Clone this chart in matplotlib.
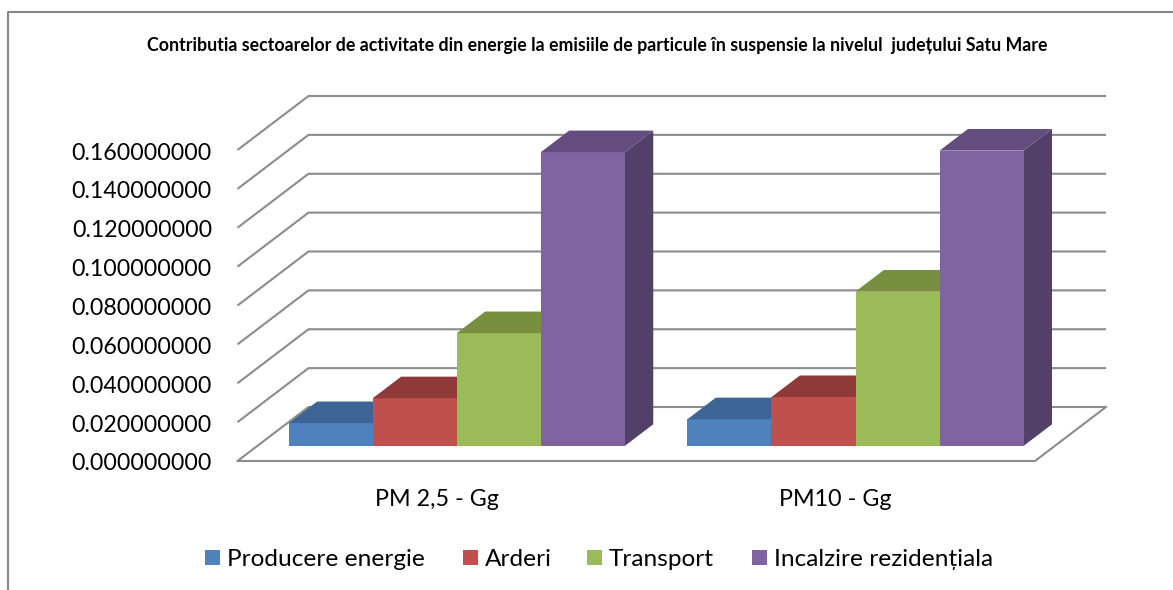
import matplotlib
matplotlib.use("Agg")
import matplotlib.pyplot as plt
from matplotlib.patches import Polygon, Rectangle
from matplotlib.lines import Line2D
from matplotlib.transforms import offset_copy

# ---------------- data ----------------
title = ("Contributia sectoarelor de activitate din energie la emisiile de particule "
         "în suspensie la nivelul  județului Satu Mare")
categories = ["PM 2,5 - Gg", "PM10 - Gg"]
series_names = ["Producere energie", "Arderi", "Transport", "Incalzire rezidențiala"]
producere_energie = [0.0117, 0.0137]
arderi = [0.0245, 0.0251]
transport = [0.0580, 0.0794]
incalzire_rezidentiala = [0.1511, 0.1519]
y_ticks = [0.00, 0.02, 0.04, 0.06, 0.08, 0.10, 0.12, 0.14, 0.16]
y_tick_labels = ["%.9f" % v for v in y_ticks]

series_values = [producere_energie, arderi, transport, incalzire_rezidentiala]

# ---------------- style ----------------
front_colors = ["#4F81BD", "#C0504D", "#9BBB59", "#8064A2"]
top_colors = ["#3C6494", "#8F3A38", "#778F3F", "#634D7E"]
side_colors = ["#385D8A", "#7A3331", "#667D35", "#524068"]
grid_color = "#8C8C8C"
FONT = ["Lato", "DejaVu Sans"]

W, H, DPI = 1173, 590, 100
X0_PX, PX_PER_CAT = 237.5, 398.75      # category axis origin / scale (pixels)
Y0_PX = 461.0                         # value 0 at front (pixels from top)
PX_PER_VAL = 311.0 / 0.16
DEPTH_DX_PX, DEPTH_DY_PX = 71.0, 54.0

fig = plt.figure(figsize=(W / DPI, H / DPI), dpi=DPI)
fig.patch.set_facecolor("white")
ax = fig.add_axes([0, 0, 1, 1])
ax.set_xlim(-X0_PX / PX_PER_CAT, (W - X0_PX) / PX_PER_CAT)
ax.set_ylim((Y0_PX - H) / PX_PER_VAL, Y0_PX / PX_PER_VAL)
ax.axis("off")

DX = DEPTH_DX_PX / PX_PER_CAT
DY = DEPTH_DY_PX / PX_PER_VAL
n_cat = len(categories)


def P(c, v, d):
    return (c + d * DX, v + d * DY)


# ---------------- walls / grid ----------------
for v in y_ticks:
    xs, ys = zip(P(0, v, 0), P(0, v, 1), P(n_cat, v, 1))
    ax.add_line(Line2D(xs, ys, color=grid_color, lw=1.5, zorder=1,
                       solid_capstyle="butt", solid_joinstyle="miter"))
xs, ys = zip(P(0, 0, 0), P(n_cat, 0, 0), P(n_cat, 0, 1))
ax.add_line(Line2D(xs, ys, color=grid_color, lw=1.5, zorder=1,
                   solid_joinstyle="miter"))

# ---------------- bars ----------------
n_ser = len(series_values)
bar_w = 0.2108
margin = (1 - n_ser * bar_w) / 2
d0, d1 = 0.28, 0.68
z = 2
for g in range(n_cat):
    for i in range(n_ser):
        h = series_values[i][g]
        c0 = g + margin + i * bar_w
        c1 = c0 + bar_w
        side = [P(c1, 0, d0), P(c1, 0, d1), P(c1, h, d1), P(c1, h, d0)]
        front = [P(c0, 0, d0), P(c1, 0, d0), P(c1, h, d0), P(c0, h, d0)]
        top = [P(c0, h, d0), P(c1, h, d0), P(c1, h, d1), P(c0, h, d1)]
        ax.add_patch(Polygon(side, closed=True, facecolor=side_colors[i],
                             edgecolor="none", zorder=z)); z += 1
        ax.add_patch(Polygon(front, closed=True, facecolor=front_colors[i],
                             edgecolor="none", zorder=z)); z += 1
        ax.add_patch(Polygon(top, closed=True, facecolor=top_colors[i],
                             edgecolor="none", zorder=z)); z += 1

renderer = fig.canvas.get_renderer()


def fit(t, target_px):
    bb = t.get_window_extent(renderer)
    t.set_fontsize(t.get_fontsize() * target_px / bb.width)


# ---------------- tick labels ----------------
tick_tr = offset_copy(ax.transData, fig=fig, x=-25.5, y=-3, units="dots")
tick_texts = []
for v, lab in zip(y_ticks, y_tick_labels):
    tick_texts.append(ax.text(0, v, lab, transform=tick_tr, ha="right", va="center",
                              family=FONT, fontsize=18, color="black"))
fit(tick_texts[-1], 140)
for t in tick_texts:
    t.set_fontsize(tick_texts[-1].get_fontsize())

# ---------------- category labels ----------------
cat_tr = offset_copy(ax.transData, fig=fig, x=0, y=-39, units="dots")
cat_texts = []
for g, lab in enumerate(categories):
    cat_texts.append(ax.text(g + 0.5, 0, lab, transform=cat_tr, ha="center", va="center",
                             family=FONT, fontsize=16, color="black"))
fit(cat_texts[0], 124)
for t in cat_texts:
    t.set_fontsize(cat_texts[0].get_fontsize())

# ---------------- title ----------------
tt = fig.text(597 / W, 1 - 45 / H, title, ha="center", va="center",
              family=FONT, fontweight="bold", fontsize=10, color="black")
fit(tt, 898)

# ---------------- legend ----------------
leg_text_x = [227, 485, 609, 774]
leg_y = 559.5
leg_texts = []
for i, name in enumerate(series_names):
    leg_texts.append(fig.text(leg_text_x[i] / W, 1 - leg_y / H, name, ha="left", va="center",
                              family=FONT, fontsize=16, color="black"))
fit(leg_texts[0], 198)
for t in leg_texts:
    t.set_fontsize(leg_texts[0].get_fontsize())
sq = 14.5
sq_y = 557.5
for i in range(n_ser):
    fig.add_artist(Rectangle(((leg_text_x[i] - 22) / W, 1 - (sq_y + sq / 2) / H),
                             sq / W, sq / H, transform=fig.transFigure,
                             facecolor=front_colors[i], edgecolor="none"))

# ---------------- chart border ----------------
fig.add_artist(Line2D([8 / W, 8 / W, 1.01], [-0.01, 1 - 12 / H, 1 - 12 / H],
                      transform=fig.transFigure, color="#868686", lw=1.5))

fig.savefig("out.png", dpi=DPI)
